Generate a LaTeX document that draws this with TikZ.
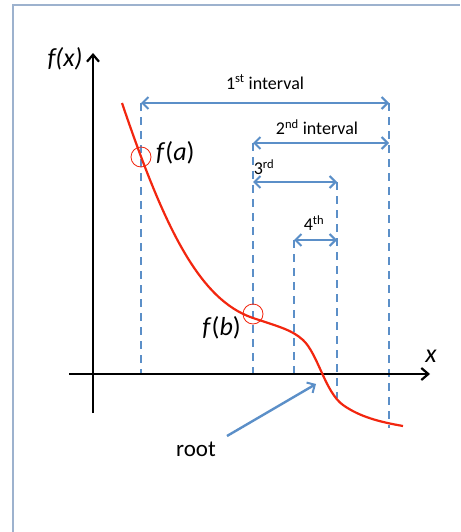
\documentclass[tikz,border=0pt]{standalone}
\usepackage{fontspec}
\setmainfont{Carlito}
\usetikzlibrary{arrows.meta}
\definecolor{frameblue}{HTML}{9DB2CE}
\definecolor{dimblue}{HTML}{5B8FC8}
\definecolor{curvered}{HTML}{F2260F}
\begin{document}
\begin{tikzpicture}[x=1pt,y=-1pt,
  axis/.style={line width=2.4pt,black,-{Straight Barb[length=7pt,width=12pt,line width=2.2pt]}},
  guide/.style={dimblue,line width=2.6pt,dash pattern=on 8pt off 6pt},
  dim/.style={dimblue,line width=2.4pt,{Straight Barb[length=6pt,width=12pt,line width=2pt]}-{Straight Barb[length=6pt,width=12pt,line width=2pt]}},
  lbl/.style={inner sep=0pt,font=\fontsize{18}{20}\selectfont},
  big/.style={inner sep=0pt,font=\fontsize{26}{28}\selectfont},
  mark circle/.style={draw=curvered,line width=0.8pt,circle,minimum size=20pt,inner sep=0pt}]
\useasboundingbox (0,0) rectangle (460,532);
\fill[white] (0,0) rectangle (460,532);
\draw[frameblue,line width=2pt] (13,532) -- (13,5) -- (460,5);
% coordinates
\coordinate (ya) at (93,413);
\coordinate (yb) at (93,53);
\coordinate (xa) at (69,374);
\coordinate (xb) at (430,374);
% guides
\coordinate (g1t) at (141,103); \coordinate (g1b) at (141,374);
\coordinate (g2t) at (253,143); \coordinate (g2b) at (253,374);
\coordinate (g3t) at (294,240); \coordinate (g3b) at (294,374);
\coordinate (g4t) at (337,182); \coordinate (g4b) at (337,398);
\coordinate (g5t) at (389,103); \coordinate (g5b) at (389,428);
\draw[guide] (g1t) -- (g1b);
\draw[guide] (g2t) -- (g2b);
\draw[guide] (g3t) -- (g3b);
\draw[guide] (g4t) -- (g4b);
\draw[guide] (g5t) -- (g5b);
% axes
\draw[axis] (ya) -- (yb);
\draw[axis] (xa) -- (xb);
\node[big,font=\fontsize{26}{28}\selectfont\itshape] (fx) at (65,59) {f(x)};
\node[big,font=\fontsize{26}{28}\selectfont\itshape] (xl) at (431,356) {x};
% intervals
\coordinate (i1a) at (141,103); \coordinate (i1b) at (389,103);
\coordinate (i2a) at (253,143); \coordinate (i2b) at (389,143);
\coordinate (i3a) at (253,182); \coordinate (i3b) at (337,182);
\coordinate (i4a) at (294,240); \coordinate (i4b) at (337,240);
\draw[dim] (i1a) -- (i1b);
\draw[dim] (i2a) -- (i2b);
\draw[dim] (i3a) -- (i3b);
\draw[dim] (i4a) -- (i4b);
\node[lbl] (l1) at (265,82) {1\textsuperscript{st} interval};
\node[lbl] (l2) at (317,127) {2\textsuperscript{nd} interval};
\node[lbl] (l3) at (264,167) {3\textsuperscript{rd}};
\node[lbl] (l4) at (314,223) {4\textsuperscript{th}};
% curve
\coordinate (c0) at (122,103);
\coordinate (c1) at (253,318);
\coordinate (c2) at (303,340);
\coordinate (c3) at (343,405);
\coordinate (c4) at (403,426);
\draw[curvered,line width=2.2pt] (c0) .. controls (165,230) and (200,300) .. (c1)
  .. controls (280,327) and (292,330) .. (c2)
  .. controls (318,354) and (325,392) .. (c3)
  .. controls (360,417) and (380,422) .. (c4);
\node[mark circle] (ca) at (141,157) {};
\node[mark circle] (cb) at (253,314) {};
\node[big,anchor=west] (fa) at (156,153) {\textit{f}(\textit{a})};
\node[big,anchor=east] (fb) at (241,328) {\textit{f}(\textit{b})};
% root
\node[inner sep=0pt,font=\fontsize{23}{25}\selectfont] (root) at (196,449) {root};
\coordinate (rt) at (316,384);
\draw[dimblue,line width=2.4pt,-{Straight Barb[length=6pt,width=12pt,line width=2pt]}] (227,436) -- (rt);
\end{tikzpicture}
\end{document}
